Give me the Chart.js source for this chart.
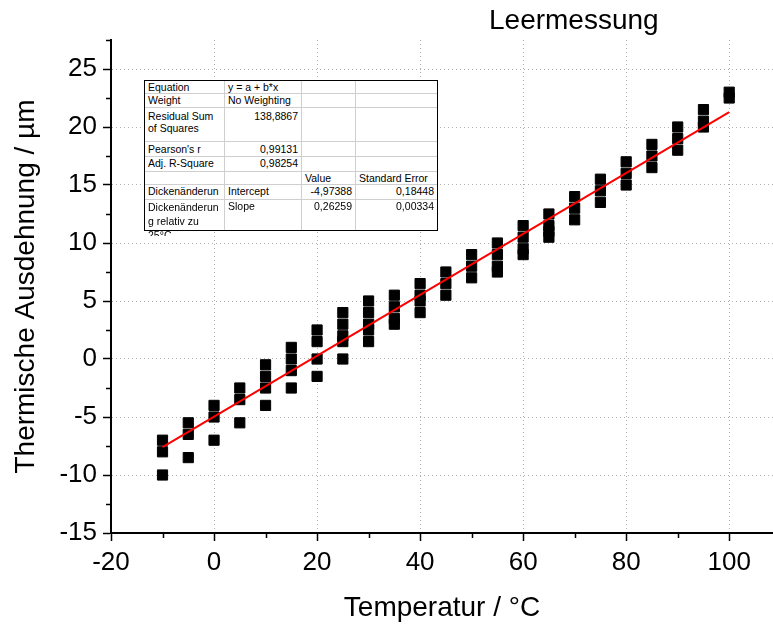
<!DOCTYPE html>
<html>
<head>
<meta charset="utf-8">
<script src="https://cdn.jsdelivr.net/npm/chart.js@4.4.1/dist/chart.umd.min.js"></script>
<style>
  html, body { margin: 0; padding: 0; background: #fff; }
  #wrap { position: relative; width: 773px; height: 626px; overflow: hidden; }
  #chart { position: absolute; left: 0; top: 0; }
  #title { position: absolute; left: 489px; top: 4px; font: 28px 'Liberation Sans', Arial, sans-serif; color: #000; white-space: nowrap; line-height: 32px; }
  #fitbox { position: absolute; left: 144px; top: 80px; width: 294px; height: 156px; overflow: hidden; }
  #fitgrid {
    display: grid; box-sizing: border-box; width: 294px; height: 151px;
    border: 1px solid #000; background: #fff;
    grid-template-columns: 80px 77px 54px 81px;
    grid-template-rows: 13px 14px 34px 15px 15px 13px 15px 30px;
    font: 10.5px 'Liberation Sans', Arial, sans-serif; color: #000;
  }
  #fitgrid div {
    border-right: 1px solid #cfcfcf; border-bottom: 1px solid #cfcfcf;
    padding: 1px 3px 0 3px; overflow: hidden; line-height: 11.7px;
    overflow-wrap: anywhere; white-space: normal;
  }
  #fitgrid .r { text-align: right; }
  #fitgrid .last { border-right: none; }
  #fitgrid .bot { border-bottom: none; }
  #fitgrid .spill { overflow: visible; line-height: 14px; padding-top: 0; }
  #fitgrid .pt3 { padding-top: 3px; }
  #fitgrid .pt2 { padding-top: 2px; }
</style>
</head>
<body>
<div id="wrap">
  <canvas id="chart" width="773" height="626"></canvas>
  <div id="title">Leermessung</div>
  <div id="fitbox">
    <div id="fitgrid">
      <div>Equation</div><div>y = a + b*x</div><div></div><div class="last"></div>
      <div>Weight</div><div>No Weighting</div><div></div><div class="last"></div>
      <div class="pt3">Residual Sum of Squares</div><div class="r pt3">138,8867</div><div></div><div class="last"></div>
      <div class="pt2">Pearson's r</div><div class="r pt2">0,99131</div><div></div><div class="last"></div>
      <div>Adj. R-Square</div><div class="r">0,98254</div><div></div><div class="last"></div>
      <div></div><div></div><div>Value</div><div class="last">Standard Error</div>
      <div>Dickenänderung relativ zu 25°C</div><div>Intercept</div><div class="r">-4,97388</div><div class="r last">0,18448</div>
      <div class="bot spill">Dickenänderung relativ zu 25°C</div><div class="bot">Slope</div><div class="r bot">0,26259</div><div class="r bot last">0,00334</div>
    </div>
  </div>
</div>
<script>
/* ===== Data: Leermessung ===== */

// temperature of each reading (°C)
const tempC = [
  -10, -10, -10,
  -5, -5, -5,
  0, 0, 0,
  5, 5, 5,
  10, 10, 10, 10,
  15, 15, 15, 15,
  20, 20, 20, 20,
  25, 25, 25, 25, 25,
  30, 30, 30, 30, 30,
  35, 35, 35, 35,
  40, 40, 40, 40,
  45, 45, 45,
  50, 50, 50,
  55, 55, 55, 55,
  60, 60, 60, 60,
  65, 65, 65, 65,
  70, 70, 70,
  75, 75, 75,
  80, 80, 80,
  85, 85, 85,
  90, 90, 90,
  95, 95, 95,
  100, 100
];

// thermal expansion of each reading (µm)
const ausdehnungUm = [
  -7, -8, -10,
  -5.5, -6.5, -8.5,
  -4, -5, -7,
  -2.5, -3.5, -5.5,
  -0.5, -1.5, -2.5, -4,
  1, 0, -1, -2.5,
  2.5, 1.5, 0, -1.5,
  4, 3, 2, 1.5, 0,
  5, 4, 3, 2.5, 1.5,
  5.5, 4.5, 3.5, 3,
  6.5, 5.5, 5, 4,
  7.5, 6.5, 5.5,
  9, 8, 7,
  10, 9, 8, 7.5,
  11.5, 10.5, 9.5, 9,
  12.5, 11.5, 11, 10.5,
  14, 13, 12,
  15.5, 14.5, 13.5,
  17, 16, 15,
  18.5, 17.5, 16.5,
  20, 19, 18,
  21.5, 20.5, 20,
  23, 22.5
];

// linear fit line end points
const fitTempC = [-10, 100];
const fitAusdehnungUm = [-7.60, 21.29];

const X_MIN = -20, X_MAX = 108.5, X_STEP = 20;
const Y_MIN = -15, Y_MAX = 27.5, Y_STEP = 5;

const FONT = "'Liberation Sans', Arial, sans-serif";
Chart.defaults.font.family = FONT;
Chart.defaults.color = '#000';

// short minor ticks halfway between the major ones
const minorTicks = {
  id: 'minorTicks',
  afterDraw(chart) {
    const { ctx } = chart;
    const xs = chart.scales.x, ys = chart.scales.y;
    const area = chart.chartArea;
    ctx.save();
    ctx.strokeStyle = '#000';
    ctx.lineWidth = 1.5;
    ctx.beginPath();
    for (let v = X_MIN + X_STEP / 2; v <= X_MAX; v += X_STEP) {
      const px = Math.round(xs.getPixelForValue(v)) + 0.5;
      ctx.moveTo(px, area.bottom);
      ctx.lineTo(px, area.bottom + 5);
    }
    for (let v = Y_MIN + Y_STEP / 2; v <= Y_MAX; v += Y_STEP) {
      const py = Math.round(ys.getPixelForValue(v)) + 0.5;
      ctx.moveTo(area.left, py);
      ctx.lineTo(area.left - 5, py);
    }
    ctx.stroke();
    ctx.restore();
  }
};

const gridColor = (minVal) => (c) => (c.tick && c.tick.value === minVal ? 'rgba(0,0,0,0)' : '#b0b0b0');

new Chart(document.getElementById('chart'), {
  type: 'scatter',
  data: {
    datasets: [
      {
        type: 'line',
        label: 'Fit',
        data: fitTempC.map((t, i) => ({ x: t, y: fitAusdehnungUm[i] })),
        borderColor: '#ff0000',
        borderWidth: 2,
        pointRadius: 0,
        fill: false,
        order: 0
      },
      {
        label: 'Leermessung',
        data: tempC.map((t, i) => ({ x: t, y: ausdehnungUm[i] })),
        pointStyle: 'rect',
        pointRadius: 7.2,
        backgroundColor: '#000',
        borderColor: '#000',
        borderWidth: 1,
        order: 1
      }
    ]
  },
  options: {
    responsive: false,
    animation: false,
    layout: { autoPadding: false, padding: { top: 40, right: 0, left: 0, bottom: 0 } },
    plugins: { legend: { display: false }, tooltip: { enabled: false } },
    scales: {
      x: {
        type: 'linear',
        min: X_MIN, max: X_MAX,
        ticks: { stepSize: X_STEP, includeBounds: false, font: { size: 26 }, color: '#000', padding: 6, maxRotation: 0 },
        grid: { color: gridColor(X_MIN), lineWidth: 1, tickColor: '#000', tickLength: 8, tickWidth: 1.5 },
        border: { color: '#000', width: 2, dash: [1, 3] },
        title: { display: true, text: 'Temperatur / °C', font: { size: 28 }, color: '#000', padding: { top: 0, bottom: 1 } },
        afterFit(s) { s.height = 93; s.paddingLeft = 0; s.paddingRight = 0; }
      },
      y: {
        type: 'linear',
        min: Y_MIN, max: Y_MAX,
        ticks: { stepSize: Y_STEP, includeBounds: false, font: { size: 26 }, color: '#000', padding: 6 },
        grid: { color: gridColor(Y_MIN), lineWidth: 1, tickColor: '#000', tickLength: 8, tickWidth: 1.5 },
        border: { color: '#000', width: 2, dash: [1, 3] },
        title: { display: true, text: 'Thermische Ausdehnung / µm', font: { size: 28 }, color: '#000', padding: { top: 9, bottom: 0 } },
        afterFit(s) { s.width = 111; s.paddingTop = 0; s.paddingBottom = 0; }
      }
    }
  },
  plugins: [minorTicks]
});
</script>
</body>
</html>
